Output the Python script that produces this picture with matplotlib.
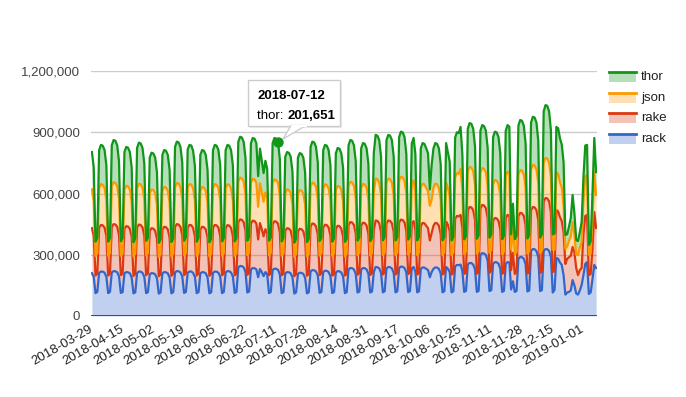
import matplotlib
matplotlib.use('Agg')
import matplotlib.pyplot as plt
import numpy as np
import pandas as pd
from matplotlib.patches import Rectangle, Polygon
from matplotlib.lines import Line2D

plt.rcParams['font.family'] = ['Liberation Sans', 'DejaVu Sans']

# ---------------- categories (dates on a discrete axis) ----------------
all_days = pd.date_range('2018-03-29', '2019-01-08', freq='D')
missing_days = ['2018-06-30', '2018-07-01', '2018-09-25', '2018-09-26',
                '2018-10-16', '2018-10-17']
dates = [d.strftime('%Y-%m-%d') for d in all_days
         if d.strftime('%Y-%m-%d') not in missing_days]

# ---------------- series values (thousands per day) ----------------
rack = [
    210, 192, 112, 118,
    211, 218, 217, 212, 192, 112, 118,
    213, 220, 219, 214, 194, 113, 117,
    209, 215, 214, 209, 189, 111, 116,
    211, 218, 217, 211, 192, 112, 117,
    204, 210, 209, 204, 185, 110, 115,
    209, 215, 214, 209, 189, 111, 117,
    213, 220, 219, 213, 194, 113, 118,
    212, 218, 218, 211, 191, 112, 117,
    209, 215, 214, 209, 189, 111, 116,
    211, 218, 217, 212, 192, 112, 118,
    213, 220, 219, 213, 194, 113, 118,
    238, 245, 244, 238, 216, 115, 120,
    228, 235, 234, 228, 190,
    230, 215, 195, 215, 205, 112, 118,
    225, 232, 231, 226, 204, 112, 117,
    209, 215, 214, 209, 189, 110, 116,
    206, 212, 211, 206, 187, 111, 116,
    218, 225, 224, 218, 198, 113, 118,
    215, 222, 221, 215, 195, 112, 117,
    213, 220, 219, 213, 194, 112, 117,
    228, 235, 234, 228, 207, 115, 120,
    228, 235, 234, 228, 207, 115, 120,
    216, 240, 239, 233, 211, 116, 121,
    233, 240, 239, 233, 211, 116, 121,
    235, 242, 241, 235, 213, 117, 122,
    233, 240, 218, 116, 121,
    231, 238, 237, 231, 225, 190, 215,
    231, 238, 237, 231, 209, 116, 121,
    240, 232, 215, 116, 121,
    243, 250, 249, 252, 220, 118, 123,
    252, 260, 259, 252, 229, 118, 123,
    299, 308, 306, 299, 271, 122, 127,
    256, 264, 263, 256, 232, 118, 123,
    256, 264, 262, 130, 170, 118, 123,
    280, 289, 288, 280, 254, 120, 125,
    318, 328, 327, 318, 289, 122, 127,
    318, 328, 327, 318, 289, 115, 127,
    284, 280, 262, 250, 200, 105, 115,
    118, 125, 176, 150, 110, 105, 125,
    152, 200, 255, 264, 108, 115, 180,
    250, 235,
]

rake = [
    220, 200, 86, 90,
    221, 228, 227, 221, 201, 86, 90,
    223, 230, 229, 223, 202, 87, 91,
    218, 225, 224, 218, 198, 85, 90,
    223, 230, 229, 223, 202, 88, 92,
    213, 220, 219, 213, 194, 85, 89,
    215, 222, 221, 215, 195, 86, 90,
    223, 230, 229, 223, 202, 87, 91,
    222, 228, 227, 220, 200, 86, 91,
    215, 222, 221, 215, 195, 86, 90,
    221, 228, 227, 221, 201, 87, 90,
    218, 225, 224, 218, 198, 86, 90,
    221, 228, 227, 221, 201, 87, 91,
    225, 232, 231, 225, 185,
    225, 210, 195, 210, 200, 88, 92,
    225, 232, 231, 226, 204, 87, 91,
    209, 215, 214, 209, 189, 85, 89,
    209, 215, 214, 209, 189, 86, 90,
    221, 228, 227, 221, 201, 87, 91,
    218, 225, 224, 218, 198, 86, 90,
    215, 222, 221, 215, 195, 86, 90,
    218, 225, 224, 218, 198, 87, 91,
    215, 222, 221, 215, 195, 86, 90,
    205, 228, 227, 221, 201, 87, 91,
    221, 228, 227, 221, 201, 87, 91,
    223, 230, 229, 223, 202, 88, 92,
    218, 225, 205, 87, 91,
    211, 218, 217, 211, 205, 180, 190,
    211, 218, 217, 211, 192, 87, 91,
    222, 215, 200, 87, 91,
    233, 240, 239, 243, 211, 88, 92,
    266, 274, 273, 266, 241, 89, 93,
    229, 236, 235, 229, 208, 90, 94,
    210, 216, 215, 210, 190, 88, 92,
    224, 231, 229, 95, 140, 88, 92,
    210, 216, 215, 210, 190, 88, 92,
    200, 206, 205, 200, 181, 89, 93,
    243, 250, 249, 243, 220, 100, 94,
    235, 232, 222, 215, 211, 150, 165,
    170, 170, 162, 163, 125, 95, 100,
    83, 200, 235, 231, 92, 90, 150,
    259, 196,
]

json_ = [
    190, 172, 96, 100,
    194, 200, 199, 194, 176, 96, 100,
    199, 205, 204, 199, 180, 95, 99,
    192, 198, 197, 192, 174, 96, 101,
    194, 200, 199, 194, 176, 97, 100,
    184, 190, 189, 184, 167, 94, 98,
    189, 195, 194, 189, 172, 95, 99,
    196, 202, 201, 196, 178, 97, 101,
    195, 200, 199, 193, 175, 96, 100,
    189, 195, 194, 189, 172, 95, 99,
    194, 200, 199, 194, 176, 96, 100,
    194, 200, 199, 194, 176, 96, 100,
    199, 205, 204, 199, 180, 96, 100,
    199, 205, 204, 199, 160,
    195, 180, 170, 180, 170, 97, 100,
    199, 205, 204, 200, 180, 96, 100,
    184, 190, 189, 184, 167, 95, 99,
    184, 190, 189, 184, 167, 95, 99,
    194, 200, 199, 194, 176, 96, 100,
    192, 198, 197, 192, 174, 96, 100,
    189, 195, 194, 189, 172, 95, 99,
    191, 197, 196, 191, 173, 96, 100,
    184, 190, 189, 184, 167, 95, 99,
    185, 205, 204, 199, 180, 96, 100,
    199, 205, 204, 199, 180, 96, 100,
    204, 210, 209, 204, 185, 97, 101,
    194, 200, 182, 96, 100,
    186, 192, 191, 186, 180, 170, 165,
    186, 192, 191, 186, 169, 96, 100,
    190, 180, 170, 96, 100,
    204, 210, 209, 225, 185, 97, 101,
    190, 196, 195, 190, 172, 98, 102,
    176, 181, 180, 176, 159, 98, 102,
    180, 186, 185, 180, 164, 97, 101,
    206, 212, 210, 100, 130, 97, 101,
    204, 210, 209, 204, 185, 98, 102,
    200, 206, 205, 200, 181, 98, 102,
    190, 196, 195, 190, 172, 110, 103,
    186, 184, 170, 165, 133, 75, 60,
    80, 95, 122, 90, 65, 99, 110,
    127, 160, 195, 195, 100, 100, 150,
    196, 162,
]

thor = [
    183, 165, 70, 74,
    186, 192, 191, 186, 169, 70, 74,
    201, 207, 206, 200, 182, 71, 75,
    184, 190, 189, 184, 167, 69, 73,
    195, 201, 200, 195, 177, 71, 74,
    175, 180, 179, 175, 158, 69, 73,
    176, 181, 180, 176, 159, 70, 73,
    196, 202, 201, 196, 178, 71, 75,
    187, 192, 191, 185, 168, 70, 74,
    176, 181, 180, 176, 159, 69, 73,
    186, 192, 191, 186, 169, 70, 74,
    187, 193, 192, 187, 170, 70, 74,
    194, 200, 199, 194, 176, 71, 75,
    194, 200, 199, 194, 150,
    170, 155, 140, 155, 145, 72, 75,
    197, 203, 202, 201.651, 179, 70, 74,
    178, 183, 182, 178, 161, 69, 73,
    176, 181, 180, 176, 159, 70, 73,
    195, 201, 200, 195, 177, 71, 74,
    187, 193, 192, 187, 170, 70, 74,
    180, 186, 185, 180, 164, 70, 73,
    199, 205, 204, 199, 180, 71, 75,
    194, 200, 199, 194, 176, 70, 74,
    193, 214, 213, 208, 188, 71, 75,
    208, 214, 213, 208, 188, 71, 75,
    214, 221, 220, 214, 194, 72, 76,
    200, 207, 188, 71, 75,
    193, 199, 198, 193, 187, 80, 170,
    193, 199, 198, 193, 175, 71, 75,
    195, 175, 170, 71, 75,
    194, 200, 199, 206, 176, 72, 76,
    209, 215, 214, 209, 189, 73, 77,
    204, 210, 209, 204, 185, 74, 78,
    230, 237, 236, 230, 209, 73, 77,
    221, 228, 226, 75, 110, 73, 77,
    238, 245, 244, 238, 216, 74, 78,
    229, 236, 235, 229, 208, 75, 79,
    251, 259, 258, 251, 228, 75, 80,
    221, 224, 216, 210, 210, 67, 60,
    70, 90, 133, 100, 72, 68, 75,
    98, 120, 150, 148, 48, 60, 120,
    167, 112,
]

series_names = ['rack', 'rake', 'json', 'thor']
colors = ['#3366cc', '#dc3912', '#ff9900', '#109618']
y_ticks = [0, 300000, 600000, 900000, 1200000]
tooltip_date = '2018-07-12'
tooltip_series = 'thor'

# ---------------- figure ----------------
W, H = 686, 397
fig = plt.figure(figsize=(W / 100, H / 100), dpi=100)
fig.patch.set_facecolor('white')


def fx(px):
    return px / W


def fy(py):
    return 1 - py / H


ax = fig.add_axes([fx(91), fy(316), 506 / W, 245 / H])
n = len(dates)
x = np.arange(n)
vals = np.array([rack, rake, json_, thor], dtype=float) * 1000
cum = np.cumsum(vals, axis=0)

prev = np.zeros(n)
for i in range(4):
    ax.fill_between(x, prev, cum[i], color=colors[i], alpha=0.3, lw=0, zorder=2)
    prev = cum[i]
for i in range(4):
    ax.plot(x, cum[i], color=colors[i], lw=1.6, zorder=3, solid_joinstyle='round')

ax.set_xlim(-0.5, n - 0.5)
ax.set_ylim(0, 1200000)
ax.set_yticks(y_ticks)
ax.set_yticklabels([f'{v:,}' for v in y_ticks])
ax.yaxis.grid(True, color='#cccccc', lw=1)
ax.set_axisbelow(True)
ax.axhline(0, color='#333333', lw=1.2, zorder=4)
for s in ax.spines.values():
    s.set_visible(False)

tick_idx = list(range(0, n, 17))
ax.set_xticks(tick_idx)
ax.set_xticklabels([dates[i] for i in tick_idx], rotation=30, ha='right',
                   va='center', rotation_mode='anchor')
ax.tick_params(axis='x', length=0, pad=9, labelsize=9.5, labelcolor='#222222')
ax.tick_params(axis='y', length=0, pad=8, labelsize=9.5, labelcolor='#444444')

# hovered point
ti = dates.index(tooltip_date)
ax.plot([ti], [cum[3][ti]], 'o', color=colors[3], ms=6.5, zorder=5)

# ---------------- legend (manual, Google style) ----------------
leg_y = {'thor': 77, 'json': 98, 'rake': 118, 'rack': 139}
for name, col in zip(series_names, colors):
    yc = leg_y[name]
    fig.add_artist(Rectangle((fx(609), fy(yc + 5)), 27 / W, 10 / H,
                             transform=fig.transFigure, facecolor=col,
                             alpha=0.3, lw=0))
    fig.add_artist(Line2D([fx(609), fx(636)], [fy(yc - 5), fy(yc - 5)],
                          transform=fig.transFigure, color=col, lw=2))
    fig.text(fx(641), fy(yc), name, fontsize=9.5, color='#222222',
             va='center', ha='left')

# ---------------- tooltip ----------------
shadow = Rectangle((fx(250), fy(128)), 92 / W, 46 / H, transform=fig.transFigure,
                   facecolor='#000000', alpha=0.08, lw=0, zorder=9)
fig.add_artist(shadow)
box = Rectangle((fx(248), fy(126)), 92 / W, 46 / H, transform=fig.transFigure,
                facecolor='white', edgecolor='#cccccc', lw=1, zorder=10)
fig.add_artist(box)
tail = Polygon([(fx(291), fy(125.5)), (fx(306), fy(125.5)), (fx(283), fy(139))],
               closed=True, transform=fig.transFigure, facecolor='white',
               edgecolor='#cccccc', lw=1, zorder=10)
fig.add_artist(tail)
fig.add_artist(Line2D([fx(291.5), fx(305.5)], [fy(126), fy(126)],
                      transform=fig.transFigure, color='white', lw=1.5, zorder=11))
fig.text(fx(257), fy(96), tooltip_date, fontsize=9.5, fontweight='bold',
         color='#000000', va='center', ha='left', zorder=12)
fig.text(fx(257), fy(116), f'{tooltip_series}: ', fontsize=9.5,
         color='#000000', va='center', ha='left', zorder=12)
fig.text(fx(287), fy(116), f'{int(round(vals[3][ti])):,}', fontsize=9.5,
         fontweight='bold', color='#000000', va='center', ha='left', zorder=12)

fig.savefig('out.png', dpi=100, facecolor='white')
